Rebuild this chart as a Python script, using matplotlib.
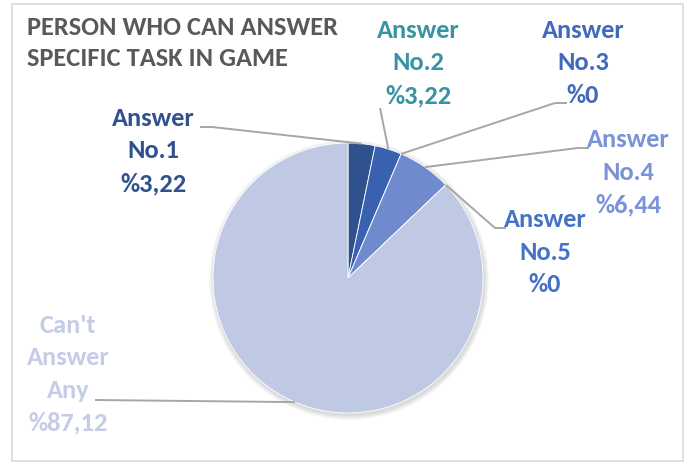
import numpy as np
import matplotlib
matplotlib.use("Agg")
import matplotlib.pyplot as plt
from matplotlib.patches import Rectangle, Circle

# ---- data ----
categories = ["Answer\nNo.1", "Answer\nNo.2", "Answer\nNo.3", "Answer\nNo.4", "Answer\nNo.5", "Can't\nAnswer\nAny"]
values = [3.22, 3.22, 0, 6.44, 0, 87.12]
value_labels = ["%3,22", "%3,22", "%0", "%6,44", "%0", "%87,12"]
title = "PERSON WHO CAN ANSWER\nSPECIFIC TASK IN GAME"

slice_colors = ["#2F528F", "#3A61B0", "#4472C4", "#6F8BCE", "#4472C4", "#C0C9E4"]
label_colors = ["#2F528F", "#3893A4", "#4169BE", "#7A93D8", "#4472C4", "#C4CCE6"]

W, H = 691, 465
fig = plt.figure(figsize=(W / 100, H / 100), dpi=100)
ax = fig.add_axes([0, 0, 1, 1])

FONT = ["Carlito", "DejaVu Sans"]

def P(x, y):
    return (x, H - y)

cx, cy = P(348, 278)
R = 135

# soft shadow
for i in range(6):
    ax.add_patch(Circle((cx + 1, cy - 2), R + 1 + i * 0.8, fc="#000000", alpha=0.025, ec="none", zorder=1))

wedges, _ = ax.pie(values, colors=slice_colors, startangle=90, counterclock=False,
                   center=(cx, cy), radius=R, frame=True,
                   wedgeprops=dict(linewidth=0.6, edgecolor="white"))
for w in wedges:
    w.set_zorder(2)
ax.set_xlim(0, W)
ax.set_ylim(0, H)
ax.set_aspect("auto")
ax.axis("off")

# frame
ax.add_patch(Rectangle(P(12, 461), 671, 457, fill=False, ec="#D9D9D9", lw=1.2))

# label text centers (pixel) and leader-line elbow/end points
text_pos = [(153, 151), (418, 63), (583, 63), (628, 172), (545, 252), (68, 374)]
leaders = [
    [(212, 127), (200, 127)],
    [(380, 108)],
    [(555, 103), (567, 103)],
    [(578, 148), (589, 148)],
    [(495, 228), (506, 228)],
    [(95, 400)],
]

for i, (cat, vl) in enumerate(zip(categories, value_labels)):
    w = wedges[i]
    mid = np.deg2rad((w.theta1 + w.theta2) / 2)
    ex, ey = cx + R * np.cos(mid), cy + R * np.sin(mid)
    pts = [(ex, ey)] + [P(*p) for p in leaders[i]]
    xs, ys = zip(*pts)
    ax.plot(xs, ys, color="#A6A6A6", lw=1.4, zorder=3, solid_capstyle="butt")
    tx, ty = P(*text_pos[i])
    ax.text(tx, ty, cat + "\n" + vl, ha="center", va="center", color=label_colors[i],
            fontsize=19, fontweight="bold", family=FONT, linespacing=1.5, zorder=4)

tx, ty = P(27, 43)
ax.text(tx, ty, title, ha="left", va="center", color="#595959", fontsize=19,
        fontweight="bold", family=FONT, linespacing=1.45)

fig.savefig("out.png", dpi=100)
